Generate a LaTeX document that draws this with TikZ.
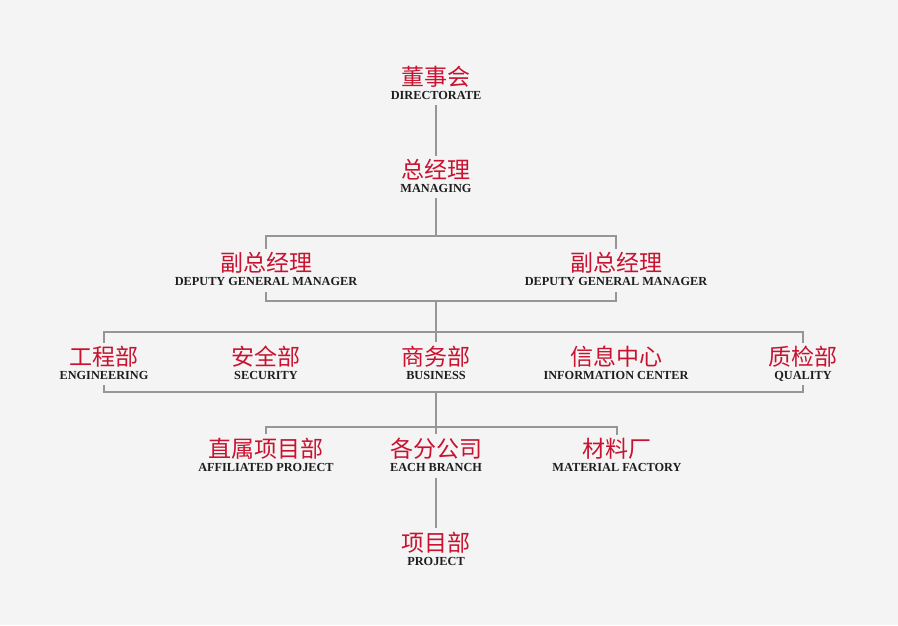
\documentclass[tikz,border=0pt]{standalone}
\usepackage{fontspec}
\setmainfont{Liberation Serif}
\newfontfamily\cnfont{Noto Sans CJK SC}
\usetikzlibrary{backgrounds}

\definecolor{pagebg}{RGB}{244,244,244}
\definecolor{orgred}{RGB}{200,18,48}
\definecolor{orgline}{RGB}{150,150,150}
\definecolor{orgtext}{RGB}{30,30,30}

\newcommand{\orgname}[2]{{\cnfont\color{orgred}\fontsize{23}{14.25}\selectfont #1}\\{\bfseries\color{orgtext}#2\rule[-3pt]{0pt}{3pt}}}

\tikzset{
  unit/.style={fill=pagebg, align=center, inner xsep=2pt, inner ysep=3pt,
    font=\fontsize{12.3}{14.25}\selectfont},
  link/.style={draw=orgline, line width=1.1pt}
}

\begin{document}
\begin{tikzpicture}[x=1pt,y=-1pt]
  \begin{scope}[on background layer]
    \fill[pagebg] (0,0) rectangle (898,625);
  \end{scope}

  \node[unit] (board) at (436,84) {\orgname{董事会}{DIRECTORATE}};
  \node[unit] (mgr) at (436,177) {\orgname{总经理}{MANAGING}};

  \node[unit] (dep1) at (266,270.5) {\orgname{副总经理}{DEPUTY GENERAL MANAGER}};
  \node[unit] (dep2) at (616,270.5) {\orgname{副总经理}{DEPUTY GENERAL MANAGER}};

  \node[unit] (eng) at (104,364) {\orgname{工程部}{ENGINEERING}};
  \node[unit] (safety) at (266,364) {\orgname{安全部}{SECURITY}};
  \node[unit] (business) at (436,364) {\orgname{商务部}{BUSINESS}};
  \node[unit] (info) at (616,364) {\orgname{信息中心}{INFORMATION CENTER}};
  \node[unit] (qual) at (803,364) {\orgname{质检部}{QUALITY}};

  \node[unit] (affil) at (266,456) {\orgname{直属项目部}{AFFILIATED PROJECT}};
  \node[unit] (branch) at (436,456) {\orgname{各分公司}{EACH BRANCH}};
  \node[unit] (material) at (617,456) {\orgname{材料厂}{MATERIAL FACTORY}};

  \node[unit] (project) at (436,550) {\orgname{项目部}{PROJECT}};

  \coordinate (bus2top) at (436,236);
  \coordinate (bus2bot) at (436,301);
  \coordinate (bus3top) at (436,332);
  \coordinate (bus3bot) at (436,392);
  \coordinate (bus4) at (436,427);

  % connectors go under the nodes
  \begin{scope}[on background layer]
    \draw[link] (board) -- (mgr);
    \draw[link] (mgr) -- (bus2top);
    \draw[link] (dep1 |- bus2top) rectangle (dep2 |- bus2bot);
    \draw[link] (bus2bot) -- (business);
    \draw[link] (eng |- bus3top) rectangle (qual |- bus3bot);
    \draw[link] (bus3bot) -- (branch);
    \draw[link] (affil) |- (bus4) -| (material);
    \draw[link] (branch) -- (project);
  \end{scope}
\end{tikzpicture}
\end{document}
